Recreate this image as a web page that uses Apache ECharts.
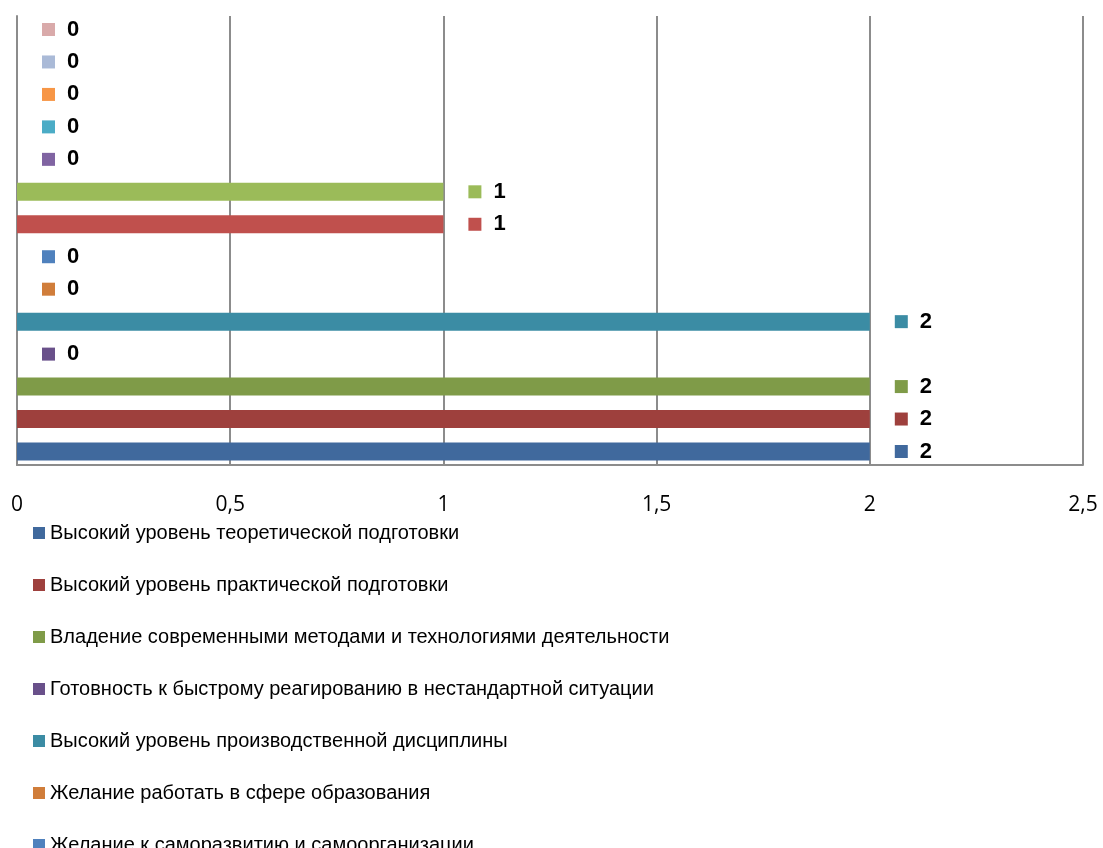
<!DOCTYPE html>
<html>
<head>
<meta charset="utf-8">
<script src="https://cdn.jsdelivr.net/npm/echarts@6/dist/echarts.min.js"></script>
<style>
html,body{margin:0;padding:0;background:#fff;overflow:hidden;}
#chart{width:1103px;height:848px;}
</style>
</head>
<body>
<div id="chart"></div>
<script>
// Series names (legend shows the first seven; the rest are cut off in the original)
const seriesNames = [
  'Высокий уровень теоретической подготовки',
  'Высокий уровень практической подготовки',
  'Владение современными методами и технологиями деятельности',
  'Готовность к быстрому реагированию в нестандартной ситуации',
  'Высокий уровень производственной дисциплины',
  'Желание работать в сфере образования',
  'Желание к саморазвитию и самоорганизации',
  'Ряд 8', 'Ряд 9', 'Ряд 10', 'Ряд 11', 'Ряд 12', 'Ряд 13', 'Ряд 14'
];
const seriesValues = [2, 2, 2, 0, 2, 0, 0, 1, 1, 0, 0, 0, 0, 0];
const seriesColors = [
  '#40699D', '#9E403D', '#7F9B48', '#69508A', '#3B8CA4', '#D07D3A', '#4F81BD',
  '#C0504D', '#9BBB59', '#8064A2', '#4BACC6', '#F79646', '#AABAD7', '#D9AAAA'
];
const categories = [''];
const xTicks = { min: 0, max: 2.5, interval: 0.5 };
const legendShown = seriesNames.slice(0, 7);

const chart = echarts.init(document.getElementById('chart'));
// first series drawn at the bottom of the band, so add them in reverse order
const order = seriesNames.map((_, i) => i).reverse();
const series = order.map((i) => ({
  name: seriesNames[i],
  type: 'bar',
  data: [seriesValues[i]],
  itemStyle: { color: seriesColors[i] },
  barGap: '80%',
  barCategoryGap: '2%',
  label: {
    show: true,
    position: 'right',
    distance: 25,
    formatter: (p) => '{s| }{v|' + p.value + '}',
    rich: {
      s: { width: 13, height: 13, backgroundColor: seriesColors[i] },
      v: { fontFamily: '"Liberation Sans", Arial, sans-serif', fontWeight: 'bold', fontSize: 22, color: '#000', padding: [0, 0, 0, 12] }
    }
  }
}));

chart.setOption({
  animation: false,
  grid: { left: 17, right: 20, top: 16, bottom: 383, containLabel: false },
  xAxis: {
    type: 'value',
    min: xTicks.min, max: xTicks.max, interval: xTicks.interval,
    axisLine: { show: true, lineStyle: { color: '#8c8c8c', width: 2 } },
    axisTick: { show: false },
    splitLine: { show: true, lineStyle: { color: '#8c8c8c', width: 2 } },
    axisLabel: {
      color: '#000', fontSize: 21, fontFamily: '"Open Sans", sans-serif', margin: 30,
      formatter: (v) => String(v).replace('.', ','),
      showMinLabel: true, showMaxLabel: true
    }
  },
  yAxis: {
    type: 'category',
    data: categories,
    axisLine: { show: true, lineStyle: { color: '#8c8c8c', width: 2 } },
    axisTick: { show: false },
    axisLabel: { show: false },
    splitLine: { show: false }
  },
  legend: {
    data: legendShown,
    orient: 'vertical',
    left: 33,
    top: 523,
    padding: 0,
    height: 400,
    itemWidth: 12,
    itemHeight: 12,
    itemGap: 32,
    icon: 'rect',
    selectedMode: false,
    textStyle: { color: '#000', fontSize: 20, lineHeight: 20, fontFamily: '"Liberation Sans", Arial, sans-serif' }
  },
  series: series
});
</script>
</body>
</html>
